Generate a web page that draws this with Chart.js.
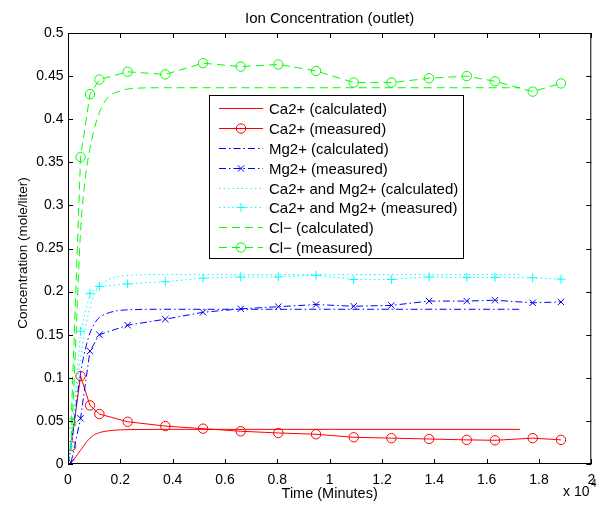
<!DOCTYPE html>
<html>
<head>
<meta charset="utf-8">
<title>Ion Concentration (outlet)</title>
<script src="https://cdn.jsdelivr.net/npm/chart.js@4.4.1/dist/chart.umd.min.js"></script>
<style>
  html, body { margin: 0; padding: 0; background: #fff; }
  canvas { display: block; }
</style>
</head>
<body>
<canvas id="ionChart" width="597" height="508"></canvas>
<script>
// 1. Data (time in minutes, concentration in mole/liter)
const tempoMedido = [120, 480, 840, 1200, 2280, 3720, 5160, 6600, 8040, 9480, 10920, 12360, 13800, 15240, 16320, 17760, 18840];
const caMedido    = [0.021, 0.102, 0.068, 0.058, 0.049, 0.044, 0.041, 0.038, 0.036, 0.0345, 0.031, 0.030, 0.029, 0.028, 0.0275, 0.030, 0.028];
const mgMedido    = [0.002, 0.053, 0.131, 0.150, 0.161, 0.168, 0.176, 0.180, 0.1825, 0.185, 0.183, 0.184, 0.189, 0.189, 0.190, 0.187, 0.188];
const caMgMedido  = [0.021, 0.154, 0.198, 0.206, 0.209, 0.2115, 0.2155, 0.217, 0.217, 0.219, 0.214, 0.214, 0.217, 0.2165, 0.2165, 0.216, 0.2145];
const clMedido    = [0.047, 0.356, 0.429, 0.446, 0.455, 0.452, 0.465, 0.461, 0.4635, 0.456, 0.4425, 0.4425, 0.4475, 0.450, 0.444, 0.432, 0.4415];

const tempoCalculado = [0, 120, 240, 360, 480, 600, 720, 840, 960, 1080, 1200, 1440, 1680, 1920, 2400, 3600, 6000, 10000, 17280];
const caCalculado    = [0, 0.002, 0.006, 0.011, 0.016, 0.021, 0.026, 0.030, 0.033, 0.035, 0.0365, 0.038, 0.039, 0.0395, 0.040, 0.0402, 0.0402, 0.0402, 0.0402];
const mgCalculado    = [0, 0.020, 0.050, 0.080, 0.105, 0.125, 0.140, 0.152, 0.160, 0.166, 0.170, 0.174, 0.1765, 0.178, 0.179, 0.1795, 0.1795, 0.1795, 0.1795];
const caMgCalculado  = [0, 0.022, 0.056, 0.091, 0.121, 0.146, 0.166, 0.182, 0.193, 0.201, 0.2065, 0.212, 0.2155, 0.2175, 0.219, 0.2197, 0.2197, 0.2197, 0.2197];
const clCalculado    = [0, 0.030, 0.100, 0.190, 0.270, 0.315, 0.345, 0.366, 0.383, 0.397, 0.408, 0.422, 0.429, 0.432, 0.4355, 0.4365, 0.4365, 0.4365, 0.4365];

const rotulosX = ['0', '0.2', '0.4', '0.6', '0.8', '1', '1.2', '1.4', '1.6', '1.8', '2'];

// 2. Styles
const FONTE = '"Liberation Sans", Arial, Helvetica, sans-serif';
const VERMELHO = '#ff0000', AZUL = '#0000ff', CIANO = '#00ffff', VERDE = '#00ff00';
const TRACO_PONTO = [7, 3, 1.5, 3];
const PONTILHADO = [1.5, 3];
const TRACEJADO = [8, 5];

const pontos = (xs, ys) => xs.map((x, i) => ({ x, y: ys[i] }));

function serie(label, xs, ys, cor, dash, marcador) {
    return {
        label,
        data: pontos(xs, ys),
        borderColor: cor,
        backgroundColor: 'rgba(0,0,0,0)',
        borderWidth: 1,
        borderDash: dash,
        showLine: true,
        fill: false,
        tension: 0,
        cubicInterpolationMode: marcador ? 'default' : 'monotone',
        pointStyle: marcador || 'circle',
        pointRadius: marcador ? (marcador === 'circle' ? 4.7 : 4.5) : 0,
        pointHoverRadius: 0,
        pointBorderColor: cor,
        pointBackgroundColor: 'rgba(0,0,0,0)',
        pointBorderWidth: 1
    };
}

const datasets = [
    serie('Ca2+ (calculated)', tempoCalculado, caCalculado, VERMELHO, []),
    serie('Ca2+ (measured)', tempoMedido, caMedido, VERMELHO, [], 'circle'),
    serie('Mg2+ (calculated)', tempoCalculado, mgCalculado, AZUL, TRACO_PONTO),
    serie('Mg2+ (measured)', tempoMedido, mgMedido, AZUL, TRACO_PONTO, 'crossRot'),
    serie('Ca2+ and Mg2+ (calculated)', tempoCalculado, caMgCalculado, CIANO, PONTILHADO),
    serie('Ca2+ and Mg2+ (measured)', tempoMedido, caMgMedido, CIANO, PONTILHADO, 'cross'),
    serie('Cl\u2212 (calculated)', tempoCalculado, clCalculado, VERDE, TRACEJADO),
    serie('Cl\u2212 (measured)', tempoMedido, clMedido, VERDE, TRACEJADO, 'circle')
];
// MATLAB draws the last series on top
datasets.forEach((d, i) => { d.order = datasets.length - 1 - i; });

// 3. Plugin: box, inward ticks, titles and legend
const pluginMoldura = {
    id: 'moldura',
    afterDraw(chart) {
        const { ctx, chartArea: { left, right, top, bottom }, scales: { x, y } } = chart;
        ctx.save();
        ctx.strokeStyle = '#000';
        ctx.lineWidth = 1;
        ctx.setLineDash([]);
        ctx.strokeRect(left + 0.5, top + 0.5, right - left - 1, bottom - top - 1);

        ctx.beginPath();
        x.ticks.forEach(t => {
            const px = Math.round(x.getPixelForValue(t.value)) + 0.5;
            ctx.moveTo(px, bottom); ctx.lineTo(px, bottom - 5);
            ctx.moveTo(px, top); ctx.lineTo(px, top + 5);
        });
        y.ticks.forEach(t => {
            const py = Math.round(y.getPixelForValue(t.value)) + 0.5;
            ctx.moveTo(left, py); ctx.lineTo(left + 5, py);
            ctx.moveTo(right, py); ctx.lineTo(right - 5, py);
        });
        ctx.stroke();

        // titles
        ctx.fillStyle = '#000';
        ctx.textAlign = 'center';
        ctx.textBaseline = 'alphabetic';
        ctx.font = '15px ' + FONTE;
        ctx.fillText('Ion Concentration (outlet)', (left + right) / 2, 23);
        ctx.font = '14.5px ' + FONTE;
        ctx.fillText('Time (Minutes)', (left + right) / 2, 498);

        ctx.save();
        ctx.translate(27, 253);
        ctx.rotate(-Math.PI / 2);
        ctx.font = '13.5px ' + FONTE;
        ctx.fillText('Concentration (mole/liter)', 0, 0);
        ctx.restore();

        ctx.textAlign = 'left';
        ctx.font = '14px ' + FONTE;
        ctx.fillText('x 10', 563, 496);
        ctx.font = '10px ' + FONTE;
        ctx.fillText('4', 591, 487);

        // legend
        const cx = 209.5, cy = 95.5, cw = 254, ch = 163;
        ctx.fillStyle = '#fff';
        ctx.fillRect(cx, cy, cw, ch);
        ctx.strokeStyle = '#000';
        ctx.strokeRect(cx, cy, cw, ch);
        ctx.font = '15px ' + FONTE;
        ctx.textBaseline = 'middle';
        chart.data.datasets.forEach((d, i) => {
            const ly = Math.round(107.7 + i * 19.95) + 0.5;
            ctx.strokeStyle = d.borderColor;
            ctx.lineWidth = 1;
            ctx.setLineDash(d.borderDash);
            ctx.beginPath();
            ctx.moveTo(219, ly);
            ctx.lineTo(263, ly);
            ctx.stroke();
            ctx.setLineDash([]);
            if (d.pointRadius > 0) {
                ctx.fillStyle = 'rgba(0,0,0,0)';
                Chart.helpers.drawPoint(ctx, { pointStyle: d.pointStyle, radius: d.pointRadius, rotation: 0, borderWidth: 1 }, 241, ly);
            }
            ctx.fillStyle = '#000';
            ctx.fillText(d.label, 269, ly + 1);
        });
        ctx.restore();
    }
};

// 4. Chart
new Chart(document.getElementById('ionChart'), {
    type: 'scatter',
    data: { datasets },
    options: {
        responsive: false,
        devicePixelRatio: 1,
        animation: false,
        layout: { padding: { top: 33, right: 1, bottom: 0, left: 0 } },
        plugins: {
            legend: { display: false },
            title: { display: false },
            tooltip: { enabled: false }
        },
        scales: {
            x: {
                type: 'linear',
                min: 0,
                max: 20000,
                grid: { display: false, drawTicks: false, tickLength: 0 },
                border: { display: false },
                ticks: {
                    stepSize: 2000,
                    autoSkip: false,
                    maxRotation: 0,
                    padding: 8,
                    color: '#000',
                    font: { family: FONTE, size: 14 },
                    callback: (v, i) => rotulosX[i]
                },
                afterFit: s => { s.height = 44; s.paddingLeft = 0; s.paddingRight = 0; }
            },
            y: {
                type: 'linear',
                min: 0,
                max: 0.5,
                grid: { display: false, drawTicks: false, tickLength: 0 },
                border: { display: false },
                ticks: {
                    stepSize: 0.05,
                    autoSkip: false,
                    padding: 4.5,
                    color: '#000',
                    font: { family: FONTE, size: 14 },
                    callback: v => String(+v.toFixed(2))
                },
                afterFit: s => { s.width = 68; s.paddingTop = 0; s.paddingBottom = 0; }
            }
        }
    },
    plugins: [pluginMoldura]
});
</script>
</body>
</html>
